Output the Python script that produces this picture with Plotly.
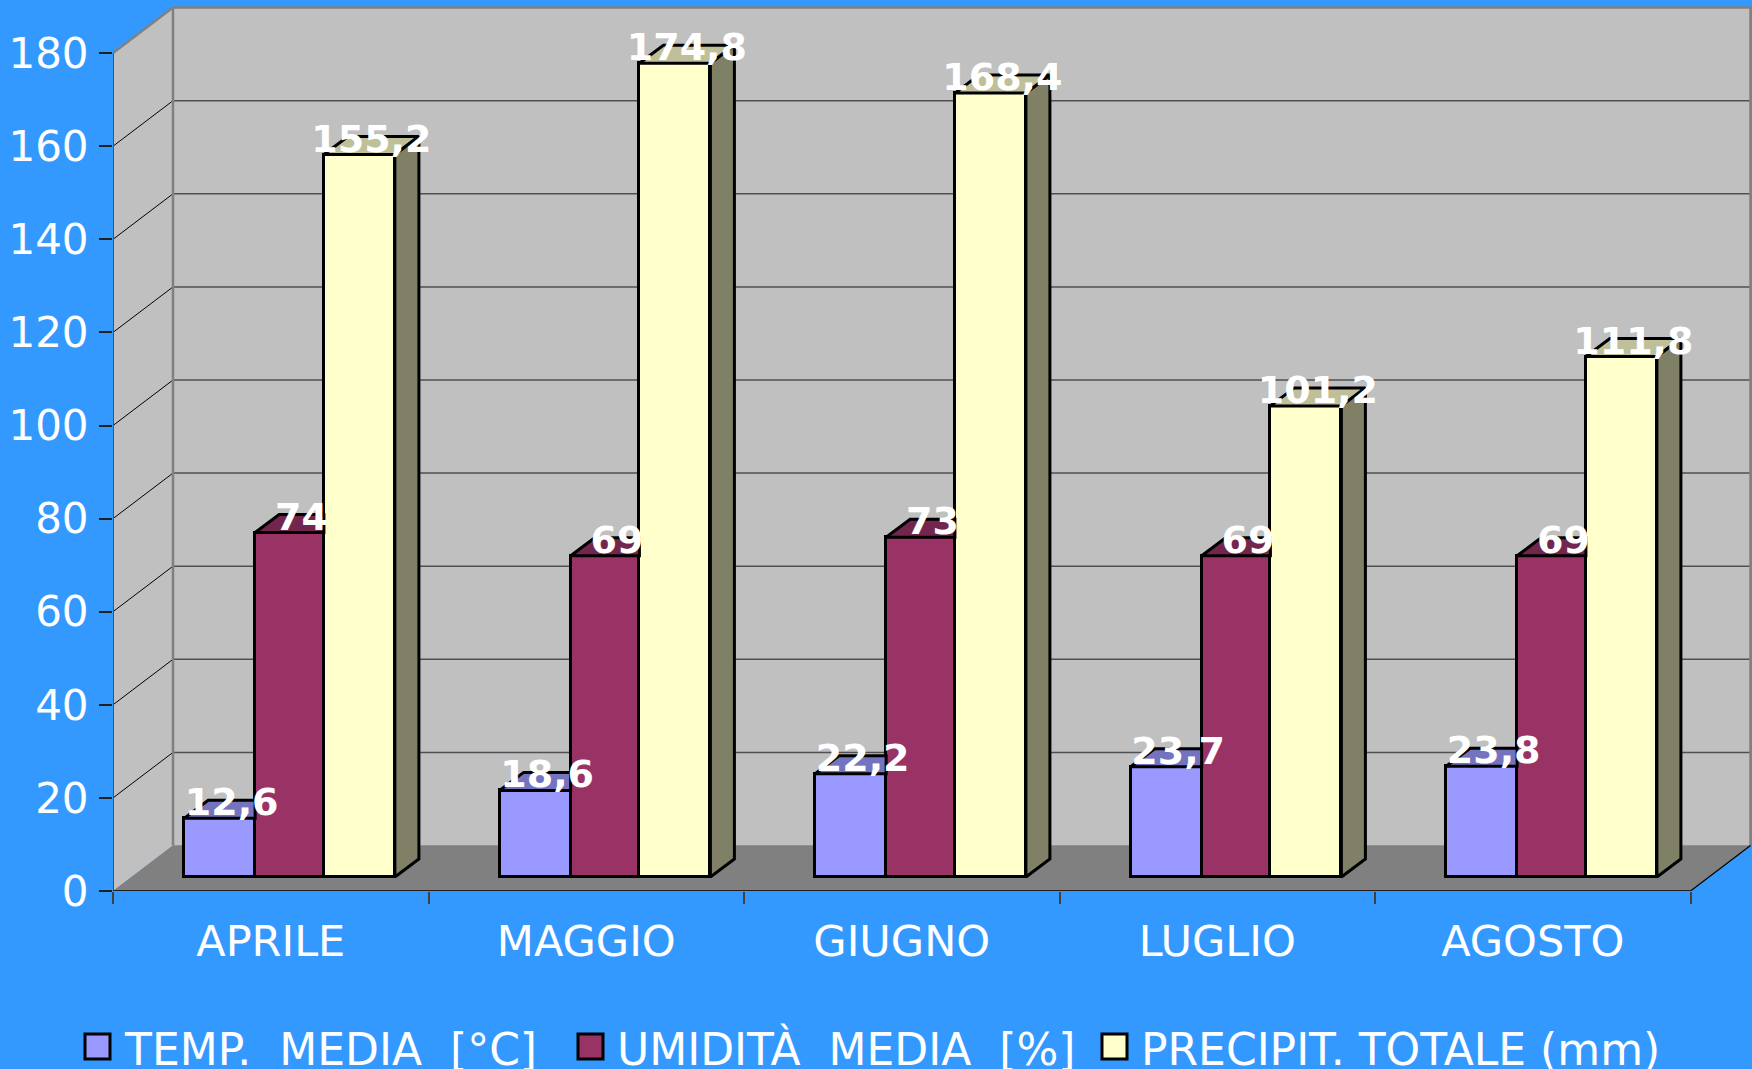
import plotly.graph_objects as go

months = ["APRILE", "MAGGIO", "GIUGNO", "LUGLIO", "AGOSTO"]
temp = [12.6, 18.6, 22.2, 23.7, 23.8]
umid = [74, 69, 73, 69, 69]
prec = [155.2, 174.8, 168.4, 101.2, 111.8]
names = ["TEMP.\u00a0\u00a0MEDIA\u00a0\u00a0[°C]", "UMIDITÀ\u00a0\u00a0MEDIA\u00a0\u00a0[%]", "PRECIPIT.\u00a0TOTALE\u00a0(mm)"]
y_ticks = [0, 20, 40, 60, 80, 100, 120, 140, 160, 180]

front = ["#9999FF", "#993366", "#FFFFCC"]
top = ["#7373BF", "#73264D", "#BFBF99"]
side = "#808066"
BG = "#3399FF"

# layout geometry (pixels)
W, H = 1752, 1069
L, R_PX, Y0 = 113, 1752, 891
CAT = 315.5
UNIT = 4.655
xr = [-0.5, -0.5 + (R_PX - L) / CAT]
yr = [0, Y0 / UNIT]
wall_dx, wall_dy = 60 / CAT, 45.5 / UNIT
bar_dx, bar_dy = 24 / CAT, 18 / UNIT
base = 14 / UNIT
center = 0.056
bar_edges = [-0.3305, -0.1055, 0.1125, 0.3375]
x_end = len(months) - 0.5
x_l = -0.5


def px(xp):
    return (xp - L) / (R_PX - L)


def py(yp):
    return (Y0 - yp) / Y0


def poly(pts):
    return "M" + " L".join(f"{a},{b}" for a, b in pts) + " Z"


shapes = []
def add_path(pts, fill, lc=None, lw=0):
    shapes.append(dict(type="path", xref="x", yref="y", layer="below", path=poly(pts),
                       fillcolor=fill, line=dict(color=lc or fill, width=lw)))


def add_line(x0, y0, x1, y1, c, w):
    shapes.append(dict(type="line", xref="x", yref="y", layer="below", x0=x0, y0=y0, x1=x1, y1=y1,
                       line=dict(color=c, width=w)))


ymax = y_ticks[-1]
# back wall, left wall, floor
add_path([(x_l + wall_dx, wall_dy), (x_l + wall_dx, ymax + wall_dy), (x_end + wall_dx, ymax + wall_dy), (x_end + wall_dx, wall_dy)], "#C0C0C0")
add_path([(x_l, 0), (x_l, ymax), (x_l + wall_dx, ymax + wall_dy), (x_l + wall_dx, wall_dy)], "#C0C0C0")
add_path([(x_l, 0), (x_l + wall_dx, wall_dy), (x_end + wall_dx, wall_dy), (x_end, 0)], "#808080")
# grid lines
for t in y_ticks[1:-1]:
    add_line(x_l + wall_dx, t + wall_dy, x_end + wall_dx, t + wall_dy, "#505050", 1.5)
    add_line(x_l, t, x_l + wall_dx, t + wall_dy, "#000000", 1)
# wall borders
add_line(x_l, ymax, x_l + wall_dx, ymax + wall_dy, "#808080", 2.5)
add_line(x_l + wall_dx, ymax + wall_dy, x_end + wall_dx, ymax + wall_dy, "#808080", 2.5)
add_line(x_l + wall_dx, wall_dy, x_l + wall_dx, ymax + wall_dy, "#808080", 2.5)
add_line(x_end + wall_dx, wall_dy, x_end + wall_dx, ymax + wall_dy, "#808080", 2.5)
add_line(x_end, 0, x_end + wall_dx, wall_dy, "#000000", 1.2)
# axes
add_line(x_l, 0, x_l, ymax, "#505050", 2)
add_line(x_l, 0, x_end, 0, "#202020", 2)

fig = go.Figure()
series = [temp, umid, prec]

for s, vals in enumerate(series):
    e0, e1 = bar_edges[s], bar_edges[s + 1]
    xs = [i + center + (e0 + e1) / 2 for i in range(len(vals))]
    fig.add_trace(go.Bar(x=xs, y=vals, base=base, width=e1 - e0, marker=dict(color=front[s], line=dict(color="#000000", width=3)),
                         name=names[s], showlegend=False, hoverinfo="skip"))

# top faces (clipped by the next bar for the first two series), side faces for the last one
for s, vals in enumerate(series):
    tx, ty = [], []
    for i, v in enumerate(vals):
        a, b = i + center + bar_edges[s], i + center + bar_edges[s + 1]
        t = v + base
        if s < 2:
            tx += [a, a + bar_dx, b, b, a, None]
        else:
            tx += [a, a + bar_dx, b + bar_dx, b, a, None]
        ty += [t, t + bar_dy, t + bar_dy, t, t, None]
    fig.add_trace(go.Scatter(x=tx, y=ty, mode="lines", fill="toself", fillcolor=top[s],
                             line=dict(color="#000000", width=3), showlegend=False, hoverinfo="skip"))
sx, sy = [], []
for i, v in enumerate(prec):
    b = i + center + bar_edges[3]
    t = v + base
    sx += [b, b + bar_dx, b + bar_dx, b, b, None]
    sy += [base, base + bar_dy, t + bar_dy, t, base, None]
fig.add_trace(go.Scatter(x=sx, y=sy, mode="lines", fill="toself", fillcolor=side,
                         line=dict(color="#000000", width=3), showlegend=False, hoverinfo="skip"))

# value labels
lx, ly, lt = [], [], []
for s, vals in enumerate(series):
    for i, v in enumerate(vals):
        lx.append(i + center + (bar_edges[s] + bar_edges[s + 1]) / 2 + 12 / CAT)
        ly.append(v + base + 12.5 / UNIT)
        lt.append(f"{v:g}".replace(".", ","))
fig.add_trace(go.Scatter(x=lx, y=ly, text=lt, mode="text", textposition="middle center", cliponaxis=False,
                         textfont=dict(family="DejaVu Sans", size=38, color="#FFFFFF", weight="bold"),
                         showlegend=False, hoverinfo="skip"))

# legend
leg_swatch = [85, 578, 1102]
leg_text = [122, 615, 1139]
annotations = []
for i, n in enumerate(names):
    shapes.append(dict(type="rect", xref="paper", yref="paper", layer="above",
                       x0=px(leg_swatch[i]), x1=px(leg_swatch[i] + 25), y0=py(1059), y1=py(1034),
                       fillcolor=front[i], line=dict(color="#000000", width=3)))
    annotations.append(dict(xref="paper", yref="paper", x=px(leg_text[i]), y=py(1049), xanchor="left", yanchor="middle",
                            text=n, showarrow=False, font=dict(family="DejaVu Sans", size=44, color="#FFFFFF")))

fig.update_layout(
    width=W, height=H, autosize=False,
    paper_bgcolor=BG, plot_bgcolor=BG,
    margin=dict(l=L, r=W - R_PX, t=0, b=H - Y0, pad=0),
    barmode="overlay", bargap=0,
    shapes=shapes, annotations=annotations, showlegend=False,
    font=dict(family="DejaVu Sans", color="#FFFFFF"),
    xaxis=dict(range=xr, tickmode="array", tickvals=list(range(len(months))), ticktext=months,
               ticks="", showgrid=False, zeroline=False, showline=False, tickangle=0,
               tickfont=dict(size=43, color="#FFFFFF"), ticklabelstandoff=21,
               minor=dict(tickmode="array", tickvals=[i - 0.5 for i in range(len(months) + 1)], ticks="outside",
                          ticklen=12, tickwidth=2, tickcolor="#404040", showgrid=False)),
    yaxis=dict(range=yr, tickmode="array", tickvals=y_ticks, ticks="outside", ticklen=13, tickwidth=1.5,
               tickcolor="#202020", showgrid=False, zeroline=False, showline=False,
               tickfont=dict(size=42, color="#FFFFFF"), ticklabelstandoff=2),
)

fig.write_html("out.html", config={"displayModeBar": False},
               post_script="document.body.style.margin='0';document.body.style.overflow='hidden';document.body.style.background='#3399FF';")
